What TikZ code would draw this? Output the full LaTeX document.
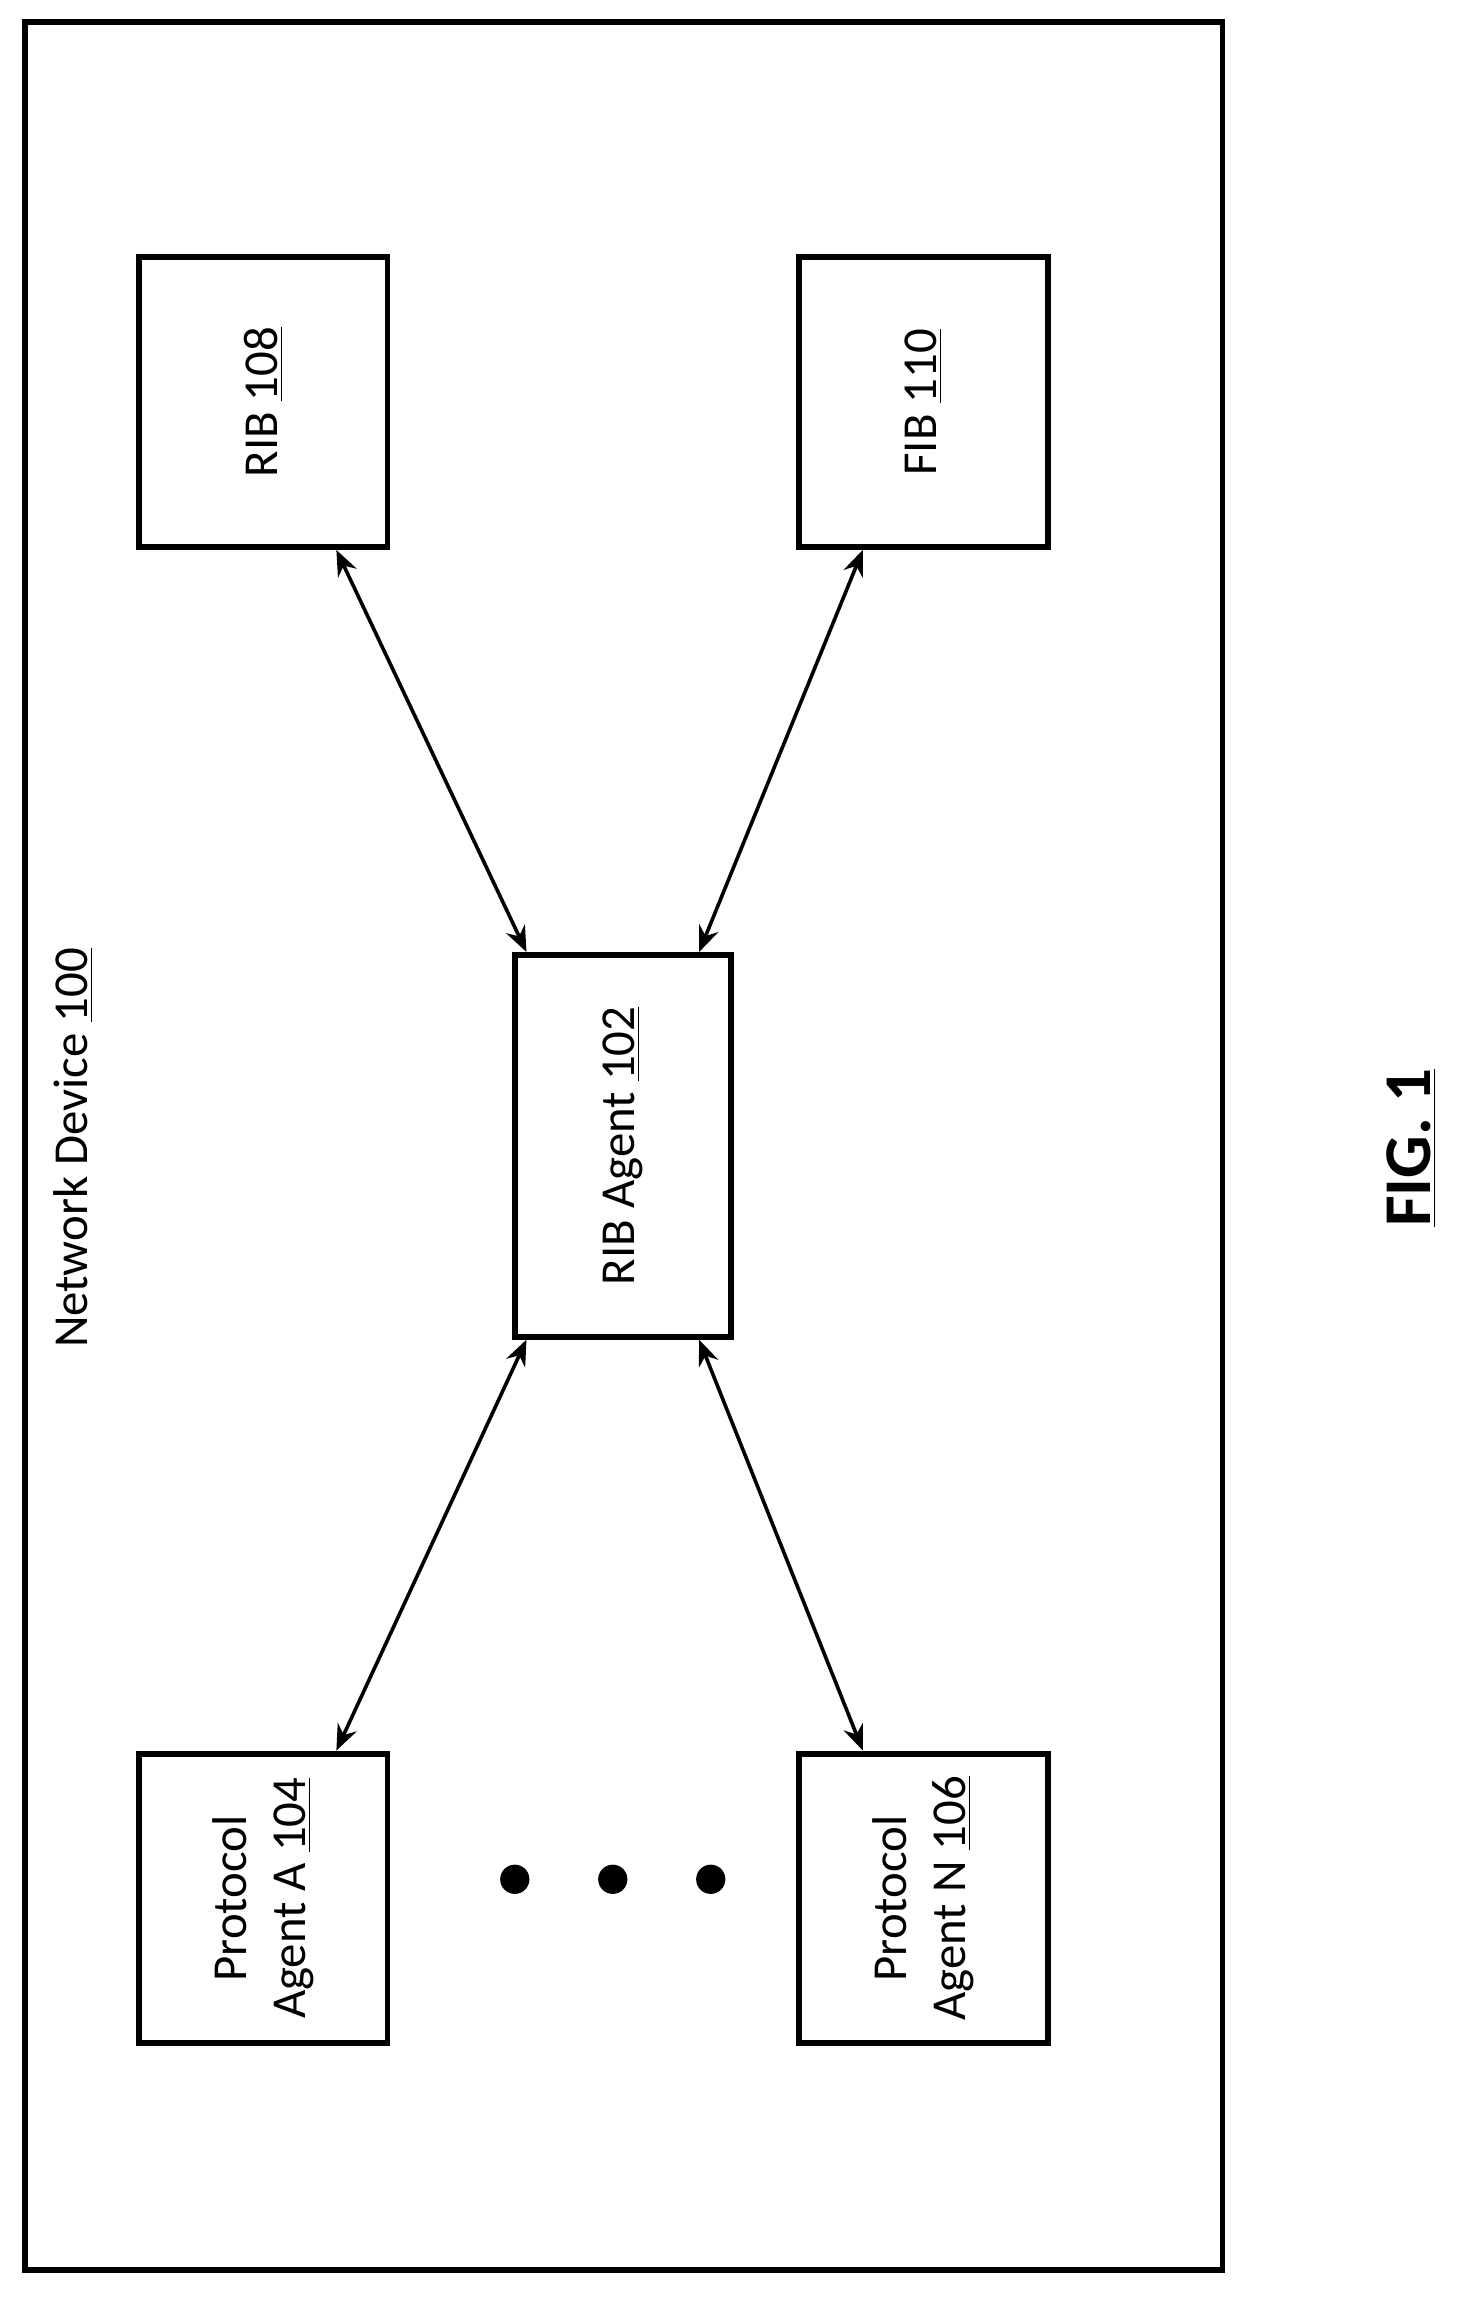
\documentclass[tikz,border=0pt]{standalone}
\usepackage{fontspec}
\setmainfont{Carlito}
\usetikzlibrary{arrows.meta}
\begin{document}
\begin{tikzpicture}[x=0.02cm,y=-0.02cm,
  box/.style={draw,line width=2.3pt,inner sep=0pt},
  lbl/.style={rotate=90,font=\fontsize{19}{23}\selectfont,align=center},
  conn/.style={line width=1.4pt,{Stealth[length=10pt,width=8pt]}-{Stealth[length=10pt,width=8pt]}},
  dot/.style={fill,circle,inner sep=0pt,minimum size=0.4cm}]
\useasboundingbox (0,0) rectangle (1000,1572);
\node[box,minimum width=16.38cm,minimum height=30.74cm] (dev) at (426.5,783.5) {};
\node[box,minimum width=3.4cm,minimum height=3.96cm] (rib) at (180,275) {};
\node[box,minimum width=3.4cm,minimum height=3.96cm] (fib) at (631.5,275) {};
\node[box,minimum width=2.96cm,minimum height=5.22cm] (agent) at (426,783.5) {};
\node[box,minimum width=3.4cm,minimum height=3.96cm] (pa) at (180,1298) {};
\node[box,minimum width=3.4cm,minimum height=3.96cm] (pn) at (631.5,1298) {};
\node[lbl] (ribl) at (rib) {RIB \underline{108}};
\node[lbl] (fibl) at (fib) {FIB \underline{110}};
\node[lbl] (agl) at (agent) {RIB Agent \underline{102}};
\node[lbl] (pal) at (pa) {Protocol\\Agent A \underline{104}};
\node[lbl] (pnl) at (pn) {Protocol\\Agent N \underline{106}};
\node[lbl] (devl) at (50,785) {Network Device \underline{100}};
\node[rotate=90,font=\fontsize{26}{31}\selectfont\bfseries] (fig) at (965,785) {\underline{FIG. 1}};
\node[dot] (d1) at (352,1285) {};
\node[dot] (d2) at (419,1285) {};
\node[dot] (d3) at (486,1285) {};
\draw[conn] ([xshift=1cm]rib.south) -- ([xshift=-1.32cm]agent.north);
\draw[conn] ([xshift=-0.83cm]fib.south) -- ([xshift=1.04cm]agent.north);
\draw[conn] ([xshift=1cm]pa.north) -- ([xshift=-1.32cm]agent.south);
\draw[conn] ([xshift=-0.83cm]pn.north) -- ([xshift=1.04cm]agent.south);
\end{tikzpicture}
\end{document}
